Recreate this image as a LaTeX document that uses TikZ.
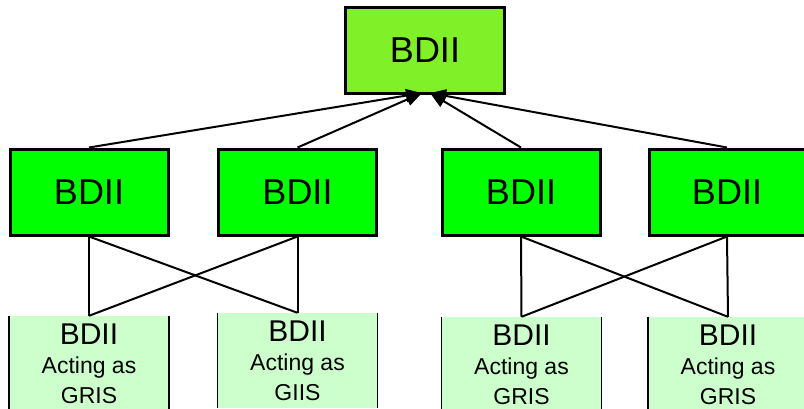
\documentclass[tikz,border=0pt]{standalone}
\usepackage{fontspec}
\setmainfont{Liberation Sans}
\usetikzlibrary{arrows.meta}
\definecolor{topgreen}{RGB}{128,240,40}
\definecolor{midgreen}{RGB}{0,255,0}
\definecolor{lowgreen}{RGB}{204,255,204}
\begin{document}
\begin{tikzpicture}[x=1pt, y=-1pt, >={Triangle[length=16pt,width=13pt]},
    bdii/.style={draw, line width=3pt, minimum width=158pt, minimum height=86pt, inner sep=0pt, font=\fontsize{36}{36}\selectfont},
    gris/.style={fill=lowgreen, minimum width=160pt, minimum height=95pt, inner sep=0pt, align=center, font=\fontsize{23}{29.5}\selectfont}]
\useasboundingbox (0,0) rectangle (804,408);
\clip (0,0) rectangle (804,408);
\node[bdii, fill=topgreen, minimum width=159pt] (top) at (425,50) {BDII};
\foreach \n/\x/\w in {1/89/158, 2/297.5/158, 3/521/158, 4/727/156}
{
    \node[bdii, fill=midgreen, minimum width=\w pt] (m\n) at (\x,192) {BDII};
}
\foreach \n/\x/\y/\t in {1/89/363.5/GRIS, 2/297.5/360.5/GIIS, 3/521.5/364.5/GRIS, 4/728/364.5/GRIS}
{
    \node[gris] (g\n) at (\x,\y) {{\fontsize{30}{30}\selectfont BDII}\\Acting as\\\t};
}
\coordinate (al) at (422,93);
\coordinate (ar) at (430,93);
\foreach \a/\c in {1/al, 2/al, 3/ar, 4/ar}
{
    \draw[->, line width=2pt] (m\a.north)--(\c);
}
\foreach \a/\b in {1/1, 1/2, 2/1, 2/2, 3/3, 3/4, 4/3, 4/4}
{
    \draw[line width=2pt] (m\a.south)--(g\b.north);
}
\foreach \b in {1,...,4}
{
    \draw[line width=1.5pt] (g\b.north west)--(g\b.south west) (g\b.north east)--(g\b.south east);
}
\end{tikzpicture}
\end{document}
